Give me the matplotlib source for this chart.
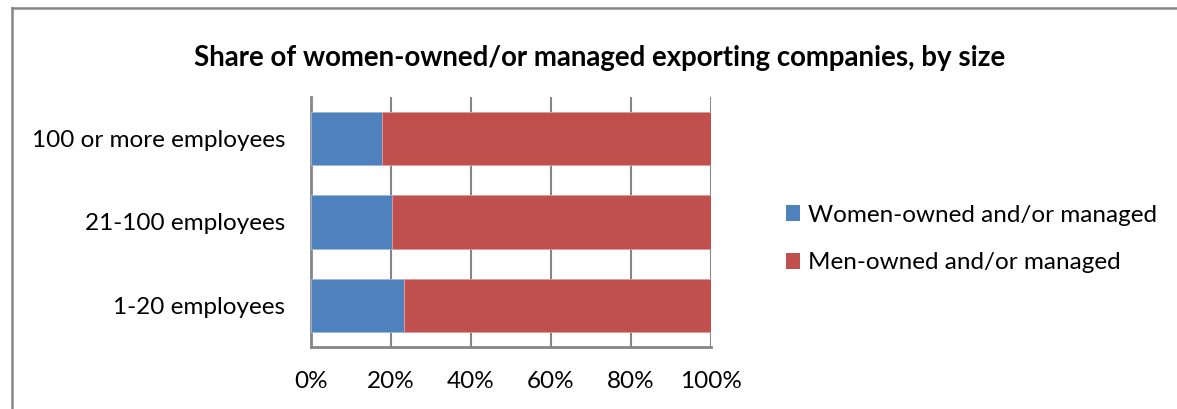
import matplotlib
matplotlib.use("Agg")
import matplotlib.pyplot as plt
from matplotlib.patches import Patch
from matplotlib.lines import Line2D

categories = ["1-20 employees", "21-100 employees", "100 or more employees"]
women = [23.2, 20.2, 17.8]
men = [76.8, 79.8, 82.2]
series_names = ["Women-owned and/or managed", "Men-owned and/or managed"]
xticks = [0, 20, 40, 60, 80, 100]
xticklabels = ["0%", "20%", "40%", "60%", "80%", "100%"]
title = "Share of women-owned/or managed exporting companies, by size"

blue = "#4F81BD"
red = "#C0504D"
grid = "#868686"

plt.rcParams['font.family'] = ['Lato', 'DejaVu Sans']

W, H = 1177, 409
fig = plt.figure(figsize=(W / 100, H / 100), dpi=100)

ax = fig.add_axes([311 / W, (H - 347) / H, 400 / W, 250 / H])
y = list(range(len(categories)))
ax.barh(y, women, height=0.64, color=blue, edgecolor="#9BB7DD", linewidth=0.6, zorder=3)
ax.barh(y, men, left=women, height=0.64, color=red, edgecolor="#E09A98", linewidth=0.6, zorder=3)

ax.set_xlim(0, 100)
ax.set_ylim(-0.5, 2.5)
ax.set_xticks(xticks)
ax.set_xticklabels(xticklabels, fontsize=17.5)
ax.set_yticks(y)
ax.set_yticklabels(categories, fontsize=17.5)
ax.tick_params(axis='x', length=0, pad=17.5)
ax.tick_params(axis='y', length=0, pad=18.5)
ax.grid(axis='x', color=grid, linewidth=1.5, zorder=0)
for s in ["top", "right"]:
    ax.spines[s].set_visible(False)
for s in ["left", "bottom"]:
    ax.spines[s].set_color(grid)
    ax.spines[s].set_linewidth(2)

fig.text(600 / W, 1 - 58 / H, title, ha="center", va="center", fontsize=19.9, fontweight="bold")

handles = [Patch(facecolor=blue, edgecolor="none"), Patch(facecolor=red, edgecolor="none")]
fig.legend(handles, series_names, loc="center left", bbox_to_anchor=(776 / W, 1 - 239 / H),
           frameon=False, fontsize=17.5, handlelength=0.6, handleheight=0.6,
           handletextpad=0.3, labelspacing=1.1, borderaxespad=0)

# outer chart border (left and top visible)
fig.add_artist(Line2D([11.5 / W, 11.5 / W], [0, 1 - 7.5 / H], color=grid, linewidth=1.8))
fig.add_artist(Line2D([11.5 / W, 1.0], [1 - 7.5 / H, 1 - 7.5 / H], color=grid, linewidth=1.8))

fig.savefig("out.png", dpi=100)
